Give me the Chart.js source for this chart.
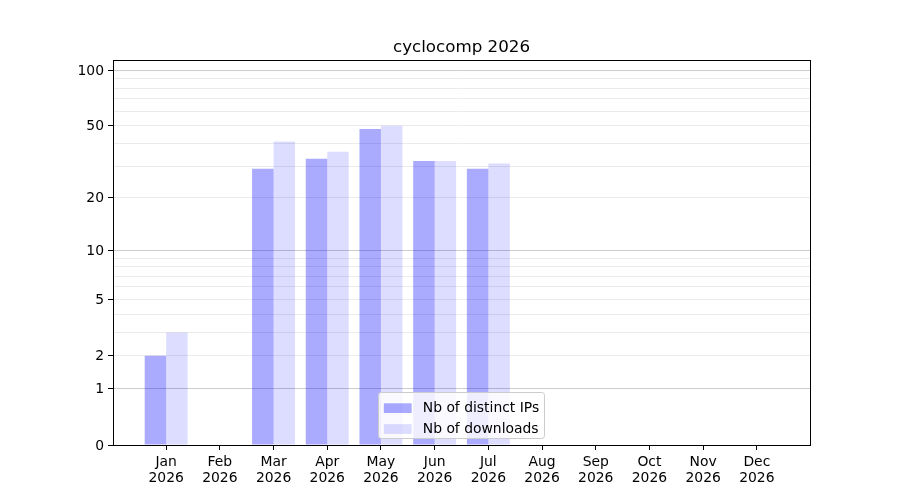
<!DOCTYPE html>
<html>
<head>
<meta charset="utf-8">
<title>cyclocomp 2026</title>
<script src="https://cdn.jsdelivr.net/npm/chart.js@4"></script>
<style>
  html, body { margin: 0; padding: 0; background: #fff; }
  #chart { display: block; }
</style>
</head>
<body>
<canvas id="chart" width="900" height="500"></canvas>
<script>
const chartTitle = "cyclocomp 2026";
const year = "2026";
const months = ["Jan", "Feb", "Mar", "Apr", "May", "Jun", "Jul", "Aug", "Sep", "Oct", "Nov", "Dec"];
const distinctIPs = [2, 0, 29, 33, 48, 32, 29, 0, 0, 0, 0, 0];
const downloads = [3, 0, 41, 36, 50, 32, 31, 0, 0, 0, 0, 0];
const yLabelled = [0, 1, 2, 5, 10, 20, 50, 100];
const yGrid = [0, 1, 2, 3, 4, 5, 6, 7, 8, 9, 10, 20, 30, 40, 50, 60, 70, 80, 90, 100];
const yMajor = [1, 10, 100];
const yMax = 113.5;

const FONT = "DejaVu Sans";
const FS = 13.9;

// y axis is log10(1 + v), like the original plot
const f = v => Math.log10(1 + v);
class Log1pScale extends Chart.Scale {
  determineDataLimits() {
    this.min = this.options.min;
    this.max = this.options.max;
  }
  buildTicks() {
    return yGrid.map(v => ({ value: v }));
  }
  configure() {
    super.configure();
    this._startValue = f(this.min);
    this._valueRange = f(this.max) - f(this.min);
  }
  getPixelForValue(v) {
    if (v === undefined || v === null || isNaN(v)) return NaN;
    return this.getPixelForDecimal((f(v) - this._startValue) / this._valueRange);
  }
  getValueForPixel(p) {
    return Math.pow(10, this._startValue + this.getDecimalForPixel(p) * this._valueRange) - 1;
  }
}
Log1pScale.id = "log1p";
Log1pScale.defaults = {};
Chart.register(Log1pScale);

// black box round the plot
const frame = {
  id: "frame",
  afterDatasetsDraw(chart) {
    const { ctx, chartArea: a } = chart;
    ctx.save();
    ctx.strokeStyle = "#000";
    ctx.lineWidth = 1;
    ctx.strokeRect(Math.round(a.left) + 0.5, Math.round(a.top) + 0.5,
      Math.round(a.right - a.left), Math.round(a.bottom - a.top));
    ctx.restore();
  }
};

// matplotlib style legend, lower centre inside the plot
const legendBox = {
  id: "legendBox",
  afterDraw(chart) {
    const { ctx, chartArea: a } = chart;
    const sets = chart.data.datasets;
    ctx.save();
    ctx.font = FS + 'px "' + FONT + '"';
    const textW = Math.max(...sets.map(d => ctx.measureText(d.label).width));
    const w = FS * 0.4 * 2 + FS * 2 + FS * 0.8 + textW;
    const h = FS * 3.3;
    const left = (a.left + a.right) / 2 - w / 2;
    const top = a.bottom - FS * 0.5 - h;
    ctx.beginPath();
    ctx.roundRect(Math.round(left) + 0.5, Math.round(top) + 0.5, Math.round(w), Math.round(h), FS * 0.2);
    ctx.fillStyle = "rgba(255,255,255,0.8)";
    ctx.fill();
    ctx.strokeStyle = "#cccccc";
    ctx.lineWidth = 1;
    ctx.stroke();
    sets.forEach((d, i) => {
      const cy = top + FS * 0.4 + FS * 0.75 + i * FS * 1.5;
      ctx.fillStyle = d.backgroundColor;
      ctx.fillRect(left + FS * 0.4, cy - FS * 0.35, FS * 2, FS * 0.7);
      ctx.fillStyle = "#000";
      ctx.textBaseline = "middle";
      ctx.textAlign = "left";
      ctx.fillText(d.label, left + FS * 0.4 + FS * 2 + FS * 0.8, cy);
    });
    ctx.restore();
  }
};

new Chart(document.getElementById("chart"), {
  type: "bar",
  data: {
    datasets: [{
      label: "Nb of distinct IPs",
      data: months.map((m, i) => ({ x: i, y: distinctIPs[i] })),
      backgroundColor: "rgba(0,0,255,0.333)",
      borderWidth: 0
    }, {
      label: "Nb of downloads",
      data: months.map((m, i) => ({ x: i, y: downloads[i] })),
      backgroundColor: "rgba(0,0,255,0.133)",
      borderWidth: 0
    }]
  },
  options: {
    responsive: false,
    animation: false,
    layout: { padding: { left: 0, right: 90, top: 0, bottom: 0 } },
    datasets: { bar: { categoryPercentage: 0.8, barPercentage: 1.0, inflateAmount: 0 } },
    plugins: {
      legend: { display: false },
      tooltip: { enabled: false },
      title: {
        display: true,
        text: chartTitle,
        fullSize: false,
        color: "#000",
        font: { family: FONT, size: 16.7, weight: "normal", lineHeight: 1.2 },
        padding: { top: 38, bottom: 2 }
      }
    },
    scales: {
      x: {
        type: "linear",
        min: -0.99,
        max: 11.99,
        bounds: "data",
        offset: false,
        border: { display: false },
        grid: { offset: false, drawOnChartArea: false, tickLength: 5, tickColor: "#000" },
        ticks: {
          autoSkip: false,
          maxRotation: 0,
          padding: 4,
          color: "#000",
          font: { family: FONT, size: FS, lineHeight: 1.15 },
          callback: v => [months[v], year]
        },
        afterBuildTicks: s => { s.ticks = months.map((m, i) => ({ value: i })); },
        afterFit: s => { s.height = 55; }
      },
      y: {
        type: "log1p",
        min: 0,
        max: yMax,
        border: { display: false },
        grid: {
          tickLength: 5,
          color: c => c.tick.value === 0 ? "rgba(0,0,0,0)" : (yMajor.includes(c.tick.value) ? "#cccccc" : "#ebebeb"),
          tickColor: c => yLabelled.includes(c.tick.value) ? "#000" : "rgba(0,0,0,0)"
        },
        ticks: {
          autoSkip: false,
          padding: 4,
          labelOffset: 1,
          color: "#000",
          font: { family: FONT, size: FS },
          callback: v => yLabelled.includes(v) ? String(v) : ""
        },
        afterFit: s => { s.width = 113; }
      }
    }
  },
  plugins: [frame, legendBox]
});
</script>
</body>
</html>
